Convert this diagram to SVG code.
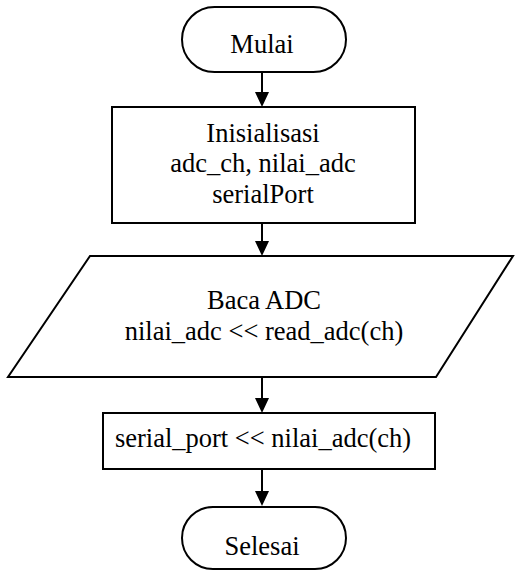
<svg xmlns="http://www.w3.org/2000/svg" width="515" height="571" viewBox="0 0 515 571">
  <style>
    .shape { fill: #ffffff; stroke: #000000; stroke-width: 2; }
    .label { font-family: "Liberation Serif", "Times New Roman", serif; font-size: 26.5px; fill: #000000; text-anchor: middle; }
    .conn { stroke: #000000; stroke-width: 2; fill: none; marker-end: url(#arrow); }
  </style>
  <defs>
    <marker id="arrow" markerUnits="userSpaceOnUse" markerWidth="16" markerHeight="16" refX="5" refY="7" orient="auto">
      <path d="M0,0 L15,7 L0,14 Z" fill="#000000"/>
    </marker>
  </defs>
  <rect width="515" height="571" fill="#ffffff"/>

  <g id="connectors">
    <line class="conn" x1="262" y1="72" x2="262" y2="97"/>
    <line class="conn" x1="262" y1="223" x2="262" y2="246"/>
    <line class="conn" x1="262" y1="377" x2="262" y2="403"/>
    <line class="conn" x1="262" y1="469" x2="262" y2="496"/>
  </g>

  <g id="mulai">
    <rect class="shape" x="182" y="7" width="164" height="65" rx="32.5" ry="32.5"/>
    <text class="label" x="262" y="53">Mulai</text>
  </g>

  <g id="inisialisasi">
    <rect class="shape" x="112" y="107" width="303" height="116"/>
    <text class="label" x="263" y="142">Inisialisasi</text>
    <text class="label" x="263" y="172">adc_ch, nilai_adc</text>
    <text class="label" x="263" y="203">serialPort</text>
  </g>

  <g id="baca-adc">
    <polygon class="shape" points="90,256 513,256 436,377 8,377"/>
    <text class="label" x="264" y="309">Baca ADC</text>
    <text class="label" x="264" y="340">nilai_adc &lt;&lt; read_adc(ch)</text>
  </g>

  <g id="serial-port">
    <rect class="shape" x="103" y="413" width="332" height="56"/>
    <text class="label" x="263" y="447">serial_port &lt;&lt; nilai_adc(ch)</text>
  </g>

  <g id="selesai">
    <rect class="shape" x="182" y="507" width="164" height="62" rx="31" ry="31"/>
    <text class="label" x="262" y="555">Selesai</text>
  </g>
</svg>
